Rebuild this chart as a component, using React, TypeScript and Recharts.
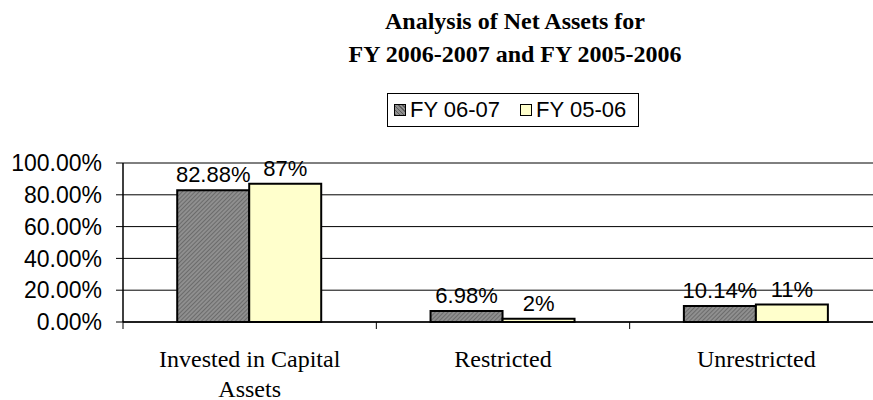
import React from 'react';
import { BarChart, Bar, XAxis, YAxis, CartesianGrid, LabelList } from 'recharts';

const categories = ['Invested in Capital Assets', 'Restricted', 'Unrestricted'];
const fy0607 = [82.88, 6.98, 10.14];
const fy0506 = [87, 2, 11];
const yTicks = [0, 20, 40, 60, 80, 100];

const chartData = categories.map((name, i) => ({
    name,
    fy0607: fy0607[i],
    fy0506: fy0506[i],
}));

const CHART_W = 883;
const Y_AXIS_W = 123;
const BAND = (CHART_W - Y_AXIS_W) / categories.length;

const sans = '"Liberation Sans", Arial, sans-serif';
const serif = '"Liberation Serif", "Times New Roman", serif';

// wrap a category name the way Excel does for a narrow label box
const wrapLabel = (label: string, maxChars = 20) => {
    const lines: string[] = [];
    let cur = '';
    label.split(' ').forEach((w) => {
        const next = cur ? `${cur} ${w}` : w;
        if (next.length > maxChars && cur) {
            lines.push(cur);
            cur = w;
        } else {
            cur = next;
        }
    });
    if (cur) lines.push(cur);
    return lines;
};

const CategoryTick = (props: any) => {
    const { x, y, payload } = props;
    const left = x - BAND / 2;
    const lines = wrapLabel(String(payload.value));
    return (
        <g>
            <line x1={left} y1={y} x2={left} y2={y + 7} stroke="#000" strokeWidth={1} />
            <text x={x} y={y + 45} textAnchor="middle" fill="#000" style={{ fontFamily: serif, fontSize: 24 }}>
                {lines.map((l, i) => (
                    <tspan key={i} x={x} dy={i === 0 ? 0 : 30}>
                        {l}
                    </tspan>
                ))}
            </text>
        </g>
    );
};

const hatch = 'repeating-linear-gradient(45deg, #5c5c5c 0 1px, #8f8f8f 1px 3px)';

const App: React.FC = () => {
    return (
        <div style={{ position: 'absolute', left: 0, top: 0, width: 873, height: 400, overflow: 'hidden', background: '#fff' }}>
            <div
                style={{
                    position: 'absolute',
                    left: 315,
                    top: 5,
                    width: 400,
                    textAlign: 'center',
                    fontFamily: serif,
                    fontWeight: 'bold',
                    fontSize: 24,
                    lineHeight: '32.5px',
                }}
            >
                Analysis of Net Assets for
                <br />
                FY 2006-2007 and FY 2005-2006
            </div>

            <div
                style={{
                    position: 'absolute',
                    left: 387,
                    top: 93,
                    width: 252,
                    height: 34,
                    boxSizing: 'border-box',
                    border: '1px solid #000',
                    display: 'flex',
                    alignItems: 'center',
                    paddingLeft: 6,
                    fontFamily: sans,
                    fontSize: 22,
                }}
            >
                <span style={{ width: 12, height: 12, boxSizing: 'border-box', border: '1px solid #000', background: hatch }} />
                <span style={{ marginLeft: 4 }}>FY 06-07</span>
                <span style={{ width: 12, height: 12, marginLeft: 20, boxSizing: 'border-box', border: '1px solid #000', background: '#ffffcc' }} />
                <span style={{ marginLeft: 4 }}>FY 05-06</span>
            </div>

            <BarChart
                width={CHART_W}
                height={400}
                data={chartData}
                margin={{ top: 163, right: 0, bottom: 48, left: 0 }}
                barCategoryGap="21.4%"
                barGap={0}
                style={{ position: 'absolute', left: 0, top: 0 }}
            >
                <defs>
                    <pattern id="hatch" width="3" height="3" patternUnits="userSpaceOnUse" patternTransform="rotate(45)">
                        <rect width="3" height="3" fill="#8f8f8f" />
                        <line x1="0" y1="0" x2="0" y2="3" stroke="#5c5c5c" strokeWidth="1.4" />
                    </pattern>
                </defs>
                <CartesianGrid vertical={false} stroke="#000" strokeWidth={1} />
                <XAxis
                    dataKey="name"
                    height={30}
                    axisLine={{ stroke: '#000', strokeWidth: 1.5 }}
                    tickLine={false}
                    tickSize={0}
                    tickMargin={0}
                    interval={0}
                    tick={<CategoryTick />}
                />
                <YAxis
                    width={Y_AXIS_W}
                    domain={[0, 100]}
                    ticks={yTicks}
                    interval={0}
                    axisLine={{ stroke: '#000', strokeWidth: 1.5 }}
                    tickLine={{ stroke: '#000' }}
                    tickSize={7}
                    tickMargin={14}
                    tickFormatter={(v: number) => `${v.toFixed(2)}%`}
                    tick={{ fill: '#000', fontFamily: sans, fontSize: 23 }}
                />
                <Bar dataKey="fy0607" name="FY 06-07" fill="url(#hatch)" stroke="#000" strokeWidth={2} isAnimationActive={false}>
                    <LabelList
                        dataKey="fy0607"
                        position="top"
                        offset={8}
                        formatter={(v: any) => `${Number(v).toFixed(2)}%`}
                        style={{ fill: '#000', fontFamily: sans, fontSize: 22 }}
                    />
                </Bar>
                <Bar dataKey="fy0506" name="FY 05-06" fill="#ffffcc" stroke="#000" strokeWidth={2} isAnimationActive={false}>
                    <LabelList
                        dataKey="fy0506"
                        position="top"
                        offset={8}
                        formatter={(v: any) => `${v}%`}
                        style={{ fill: '#000', fontFamily: sans, fontSize: 22 }}
                    />
                </Bar>
            </BarChart>
        </div>
    );
};

export default App;
